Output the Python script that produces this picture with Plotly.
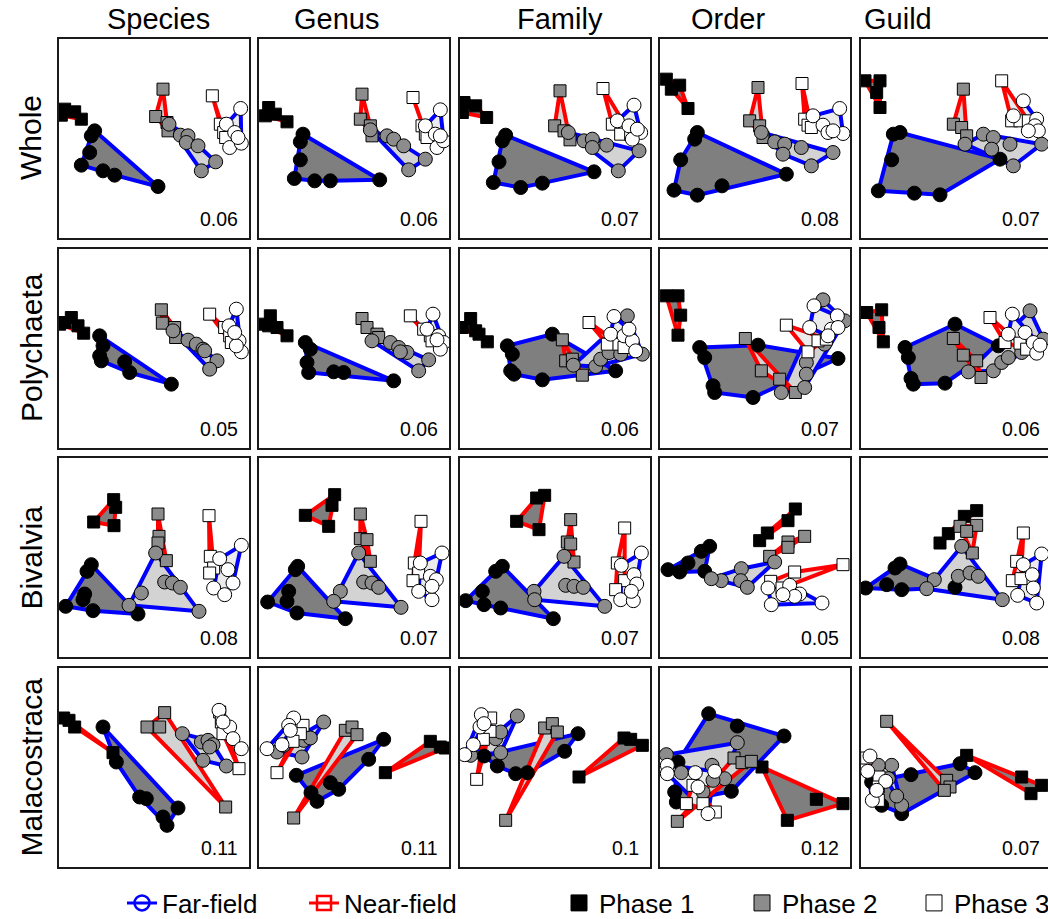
import plotly.graph_objects as go

# ---------------------------------------------------------------
# Ordination scores (panel units, y increases downward) for each
# taxonomic resolution (columns) and assemblage (rows).
# far = far-field stations (circles), near = near-field (squares),
# the digit is the sampling phase.
# ---------------------------------------------------------------
COLUMNS = ["Species", "Genus", "Family", "Order", "Guild"]
ROWS = ["Whole", "Polychaeta", "Bivalvia", "Malacostraca"]

stress_whole = [0.06, 0.06, 0.07, 0.08, 0.07]
stress_polychaeta = [0.05, 0.06, 0.06, 0.07, 0.06]
stress_bivalvia = [0.08, 0.07, 0.07, 0.05, 0.08]
stress_malacostraca = [0.11, 0.11, 0.1, 0.12, 0.07]

# ---- Whole assemblage -------------------------------------------
whole_species = {
    "near1": [(17, 212), (47, 220), (67, 242), (7, 230)],
    "far1": [(107, 277), (97, 292), (92, 342), (67, 380), (132, 397), (167, 410), (297, 444)],
    "near2": [(312, 152), (290, 234), (324, 252), (327, 277)],
    "far2": [(330, 257), (364, 290), (387, 292), (382, 312), (417, 322), (470, 370), (427, 397)],
    "near3": [(460, 172), (484, 257), (494, 282), (500, 297)],
    "far3": [(545, 210), (502, 257), (527, 282), (512, 327), (547, 314), (537, 297)],
}
whole_genus = {
    "near1": [(29, 207), (49, 227), (84, 250), (19, 232)],
    "far1": [(132, 287), (124, 310), (124, 364), (106, 420), (167, 427), (214, 427), (362, 424)],
    "near2": [(309, 167), (304, 242), (334, 262), (339, 292)],
    "far2": [(334, 274), (384, 292), (404, 302), (434, 322), (499, 362), (449, 394)],
    "near3": [(462, 177), (489, 262), (499, 287), (504, 297)],
    "far3": [(544, 214), (499, 262), (529, 287), (534, 327), (554, 307), (544, 292)],
}
whole_family = {
    "near1": [(12, 192), (47, 202), (80, 237), (7, 222)],
    "far1": [(137, 290), (127, 307), (117, 370), (100, 432), (182, 447), (247, 434), (402, 400)],
    "near2": [(300, 157), (284, 262), (312, 277), (330, 304)],
    "far2": [(325, 282), (372, 307), (397, 302), (397, 327), (440, 320), (537, 337), (475, 397)],
    "near3": [(429, 150), (457, 257), (482, 287), (512, 287)],
    "far3": [(522, 200), (472, 247), (507, 262), (542, 282), (517, 302), (532, 272)],
}
whole_order = {
    "near1": [(19, 122), (59, 140), (84, 210), (34, 152)],
    "far1": [(112, 282), (104, 302), (62, 364), (42, 455), (112, 470), (186, 442), (379, 407)],
    "near2": [(294, 147), (269, 247), (299, 262), (309, 297)],
    "far2": [(304, 282), (344, 310), (374, 317), (424, 327), (519, 342), (454, 382), (369, 347)],
    "near3": [(426, 135), (434, 242), (444, 260), (454, 267)],
    "far3": [(539, 210), (459, 232), (489, 260), (504, 282), (549, 285), (519, 277)],
}
whole_guild = {
    "near1": [(12, 127), (57, 127), (47, 162), (57, 207)],
    "far1": [(97, 287), (117, 282), (92, 364), (52, 457), (160, 464), (237, 469), (417, 362)],
    "near2": [(307, 152), (277, 257), (302, 267), (317, 292)],
    "far2": [(312, 317), (367, 287), (397, 297), (392, 332), (447, 317), (542, 317), (457, 382)],
    "near3": [(422, 127), (452, 247), (477, 247), (502, 247)],
    "far3": [(487, 187), (457, 232), (527, 242), (522, 262), (532, 277), (502, 277)],
}

# ---- Polychaeta ---------------------------------------------------
poly_species = {
    "near1": [(17, 222), (37, 207), (57, 232), (74, 254), (2, 227)],
    "far1": [(122, 262), (132, 292), (122, 322), (127, 337), (197, 340), (212, 372), (337, 407)],
    "near2": [(307, 184), (310, 224), (347, 237), (350, 267)],
    "far2": [(342, 247), (387, 275), (412, 287), (432, 302), (474, 337), (452, 362), (437, 307)],
    "near3": [(452, 197), (497, 237), (512, 262), (517, 282)],
    "far3": [(532, 182), (510, 232), (540, 277), (547, 310), (532, 292), (527, 252)],
}
poly_genus = {
    "near1": [(34, 202), (9, 227), (54, 237), (84, 262), (29, 232)],
    "far1": [(139, 282), (154, 302), (144, 342), (149, 372), (224, 370), (254, 372), (404, 397)],
    "near2": [(309, 210), (324, 237), (354, 257), (359, 267)],
    "far2": [(339, 277), (394, 282), (419, 297), (444, 312), (509, 334), (479, 367), (424, 310)],
    "near3": [(454, 202), (494, 242), (514, 262), (519, 277)],
    "far3": [(522, 197), (504, 242), (539, 262), (554, 282), (544, 302), (534, 274)],
}
poly_family = {
    "near1": [(32, 210), (7, 237), (57, 257), (82, 280), (47, 247)],
    "far1": [(142, 292), (157, 317), (152, 367), (162, 377), (247, 394), (277, 257), (467, 367)],
    "near2": [(307, 274), (317, 337), (367, 380), (337, 332)],
    "far2": [(340, 350), (407, 354), (422, 332), (447, 312), (482, 317), (502, 202), (547, 317)],
    "near3": [(387, 222), (442, 287), (477, 287), (492, 297)],
    "far3": [(462, 204), (452, 257), (492, 262), (517, 277), (527, 307), (507, 242)],
}
poly_order = {
    "near1": [(19, 142), (54, 142), (62, 200), (54, 260)],
    "far1": [(119, 297), (134, 327), (159, 412), (164, 432), (279, 447), (294, 290), (534, 330)],
    "near2": [(256, 270), (304, 367), (359, 392), (406, 432)],
    "far2": [(489, 154), (439, 342), (439, 377), (434, 417), (364, 432), (494, 287), (554, 217)],
    "near3": [(379, 230), (444, 310), (474, 277), (499, 272)],
    "far3": [(462, 172), (449, 237), (532, 202), (514, 242), (534, 237), (504, 262)],
}
poly_guild = {
    "near1": [(17, 192), (62, 184), (54, 237), (67, 280)],
    "far1": [(282, 227), (132, 297), (142, 327), (150, 390), (157, 407), (252, 404), (412, 292)],
    "near2": [(277, 270), (307, 320), (347, 337), (360, 387)],
    "far2": [(322, 370), (397, 367), (422, 342), (442, 327), (507, 187), (547, 272), (482, 312)],
    "near3": [(387, 207), (432, 282), (477, 284), (497, 302)],
    "far3": [(454, 197), (442, 257), (492, 252), (517, 282), (527, 314), (537, 290)],
}

# ---- Bivalvia -----------------------------------------------------
biv_species = {
    "near1": [(164, 125), (170, 148), (104, 192), (165, 203)],
    "far1": [(97, 320), (84, 340), (77, 408), (72, 425), (102, 458), (20, 445), (237, 468)],
    "near2": [(297, 168), (300, 235), (297, 255), (322, 308)],
    "far2": [(290, 285), (247, 405), (210, 442), (317, 372), (340, 375), (364, 388), (420, 460)],
    "near3": [(450, 173), (454, 295), (464, 330), (452, 345)],
    "far3": [(547, 262), (482, 302), (507, 335), (522, 375), (464, 390), (497, 410)],
}
biv_genus = {
    "near1": [(227, 110), (219, 142), (139, 172), (209, 205)],
    "far1": [(116, 325), (109, 335), (89, 400), (84, 430), (114, 465), (26, 432), (259, 482)],
    "near2": [(304, 168), (304, 242), (324, 245), (334, 310)],
    "far2": [(299, 285), (244, 400), (224, 430), (314, 372), (339, 375), (359, 388), (426, 448)],
    "near3": [(486, 190), (466, 315), (479, 345), (462, 368)],
    "far3": [(549, 285), (484, 315), (514, 355), (532, 365), (479, 400), (519, 425), (519, 385)],
}
biv_family = {
    "near1": [(254, 112), (230, 120), (170, 190), (237, 215)],
    "far1": [(127, 325), (107, 340), (67, 400), (72, 440), (122, 450), (17, 428), (280, 482)],
    "near2": [(332, 185), (322, 252), (332, 258), (342, 312)],
    "far2": [(312, 295), (222, 400), (224, 425), (317, 382), (342, 385), (370, 388), (434, 445)],
    "near3": [(494, 210), (472, 315), (494, 368), (467, 395)],
    "far3": [(544, 285), (484, 322), (522, 350), (530, 378), (482, 425), (520, 428), (514, 400)],
}
biv_order = {
    "near1": [(406, 153), (384, 188), (322, 225), (299, 248)],
    "far1": [(149, 265), (124, 280), (84, 315), (24, 335), (59, 342), (134, 340)],
    "near2": [(434, 235), (384, 252), (384, 268), (329, 295)],
    "far2": [(244, 332), (184, 368), (154, 362), (242, 368), (262, 388), (344, 312)],
    "near3": [(549, 320), (404, 342), (332, 370), (366, 390)],
    "far3": [(486, 435), (389, 382), (419, 408), (404, 415), (334, 440), (369, 410), (324, 390)],
}
biv_guild = {
    "near1": [(347, 158), (310, 175), (262, 227), (237, 255)],
    "far1": [(117, 318), (102, 330), (77, 380), (122, 395), (14, 390), (282, 388)],
    "near2": [(347, 202), (297, 205), (317, 220), (334, 285)],
    "far2": [(302, 265), (220, 365), (197, 392), (292, 355), (327, 345), (352, 355), (424, 425)],
    "near3": [(487, 225), (467, 310), (454, 368), (480, 362)],
    "far3": [(542, 288), (487, 320), (514, 350), (517, 390), (470, 412), (527, 435)],
}

# ---- Malacostraca -------------------------------------------------
mal_species = {
    "near1": [(14, 150), (30, 157), (47, 177), (162, 254)],
    "far1": [(132, 177), (172, 282), (242, 387), (262, 392), (357, 420), (312, 447), (324, 472)],
    "near2": [(317, 134), (264, 177), (302, 177), (500, 417)],
    "far2": [(370, 197), (427, 222), (447, 217), (462, 230), (432, 277), (502, 294), (452, 237)],
    "near3": [(482, 132), (487, 162), (492, 197), (540, 302)],
    "far3": [(480, 127), (512, 177), (522, 212), (547, 242), (492, 162)],
}
mal_genus = {
    "near1": [(514, 220), (544, 237), (559, 240), (379, 314)],
    "far1": [(374, 214), (329, 274), (112, 322), (156, 374), (174, 400), (214, 344), (239, 364)],
    "near2": [(259, 187), (279, 177), (294, 200), (104, 450)],
    "far2": [(194, 162), (129, 267), (54, 252), (74, 232), (134, 217), (154, 210)],
    "near3": [(132, 172), (124, 197), (102, 220), (54, 314)],
    "far3": [(104, 150), (89, 172), (24, 242), (69, 230), (94, 187)],
}
mal_family = {
    "near1": [(492, 210), (512, 214), (547, 232), (357, 327)],
    "far1": [(354, 197), (314, 250), (72, 264), (112, 294), (167, 317), (202, 314)],
    "near2": [(254, 180), (277, 167), (292, 192), (137, 457)],
    "far2": [(172, 144), (122, 254), (107, 212), (122, 192), (32, 262)],
    "near3": [(92, 150), (90, 190), (70, 214), (50, 334)],
    "far3": [(64, 140), (60, 177), (40, 230), (14, 260), (72, 167)],
}
mal_order = {
    "near1": [(306, 297), (469, 394), (549, 407), (382, 457)],
    "far1": [(146, 137), (232, 174), (372, 204), (214, 370), (44, 372), (49, 402), (54, 282)],
    "near2": [(222, 270), (246, 284), (274, 280), (52, 460)],
    "far2": [(232, 224), (19, 260), (64, 314), (156, 292), (194, 332), (159, 337), (129, 372)],
    "near3": [(99, 352), (79, 407), (129, 407), (166, 432)],
    "far3": [(22, 292), (22, 317), (106, 314), (164, 310), (144, 437), (114, 357)],
}
mal_guild = {
    "near1": [(317, 262), (482, 327), (542, 352), (510, 377)],
    "far1": [(297, 287), (342, 314), (150, 320), (122, 437), (62, 412), (32, 342)],
    "near2": [(77, 160), (257, 337), (267, 357), (250, 367)],
    "far2": [(92, 292), (122, 412), (107, 384), (52, 292), (82, 332)],
    "near3": [(17, 270), (54, 327), (52, 357), (52, 397)],
    "far3": [(27, 264), (20, 310), (74, 340), (34, 397), (47, 367)],
}

PANELS = [
    [whole_species, whole_genus, whole_family, whole_order, whole_guild],
    [poly_species, poly_genus, poly_family, poly_order, poly_guild],
    [biv_species, biv_genus, biv_family, biv_order, biv_guild],
    [mal_species, mal_genus, mal_family, mal_order, mal_guild],
]
STRESS = [stress_whole, stress_polychaeta, stress_bivalvia, stress_malacostraca]

# ---------------------------------------------------------------
# Styling
# ---------------------------------------------------------------
FONT = "Liberation Sans, Arial, sans-serif"
W, H = 1048, 919
FIELD_LINE = {"far": "#0000ff", "near": "#ff0000"}
FIELD_SYMBOL = {"far": "circle", "near": "square"}
PHASE_FILL = {1: "#000000", 2: "#8c8c8c", 3: "#ffffff"}
HULL_FILL = {1: "#7f7f7f", 2: "#d3d3d3", 3: "#ebebeb"}
MARKER_SIZE = {"far": 14, "near": 12}

COL_X0 = [59, 259, 460, 660, 861]
ROW_Y0 = [38.5, 248.5, 458, 668]
PANEL_W, PANEL_H = 190, 199
UNITS_PER_PX = 3
TITLE_X = [158, 336, 560, 728, 898]


def convex_hull(points):
    pts = sorted(set(points))
    if len(pts) <= 2:
        return pts

    def cross(o, a, b):
        return (a[0] - o[0]) * (b[1] - o[1]) - (a[1] - o[1]) * (b[0] - o[0])

    lower, upper = [], []
    for p in pts:
        while len(lower) >= 2 and cross(lower[-2], lower[-1], p) <= 0:
            lower.pop()
        lower.append(p)
    for p in reversed(pts):
        while len(upper) >= 2 and cross(upper[-2], upper[-1], p) <= 0:
            upper.pop()
        upper.append(p)
    return lower[:-1] + upper[:-1]


fig = go.Figure()
layout_axes = {}
annotations = []

for r, row in enumerate(PANELS):
    for c, panel in enumerate(row):
        k = r * 5 + c + 1
        xa = "x" if k == 1 else f"x{k}"
        ya = "y" if k == 1 else f"y{k}"
        x0 = COL_X0[c]
        x1 = min(x0 + PANEL_W, W)
        y0 = ROW_Y0[r]
        y1 = y0 + PANEL_H
        last_col = c == len(row) - 1

        layout_axes["xaxis" if k == 1 else f"xaxis{k}"] = dict(
            domain=[x0 / W, x1 / W], anchor=ya,
            range=[0, (x1 - x0) * UNITS_PER_PX],
            showline=True, mirror=True, linecolor="#1a1a1a", linewidth=1.5,
            showgrid=False, zeroline=False, showticklabels=False, ticks="",
            fixedrange=True,
        )
        layout_axes["yaxis" if k == 1 else f"yaxis{k}"] = dict(
            domain=[1 - y1 / H, 1 - y0 / H], anchor=xa,
            range=[PANEL_H * UNITS_PER_PX, 0],
            showline=True, mirror=not last_col, linecolor="#1a1a1a", linewidth=1.5,
            showgrid=False, zeroline=False, showticklabels=False, ticks="",
            fixedrange=True,
        )

        # convex hulls: far-field first, then near-field
        for field in ("far", "near"):
            for phase in (1, 2, 3):
                pts = convex_hull(panel[f"{field}{phase}"])
                if len(pts) > 2:
                    pts = pts + [pts[0]]
                fig.add_trace(go.Scatter(
                    x=[p[0] for p in pts], y=[p[1] for p in pts],
                    mode="lines", fill="toself" if len(pts) > 3 else None,
                    fillcolor=HULL_FILL[phase],
                    line=dict(color=FIELD_LINE[field], width=4),
                    hoverinfo="skip", showlegend=False, xaxis=xa, yaxis=ya,
                ))

        # station points
        for phase in (1, 2, 3):
            for field in ("near", "far"):
                pts = panel[f"{field}{phase}"]
                fig.add_trace(go.Scatter(
                    x=[p[0] for p in pts], y=[p[1] for p in pts],
                    mode="markers",
                    marker=dict(symbol=FIELD_SYMBOL[field], size=MARKER_SIZE[field],
                                color=PHASE_FILL[phase],
                                line=dict(color="#000000", width=1)),
                    showlegend=False, xaxis=xa, yaxis=ya,
                ))

        annotations.append(dict(
            x=544, y=540, xref=xa, yref=ya, text=f"{STRESS[r][c]:g}",
            showarrow=False, xanchor="right", yanchor="middle",
            font=dict(family=FONT, size=19.5, color="#000000"),
        ))

# column and row headings
for c, name in enumerate(COLUMNS):
    annotations.append(dict(
        x=TITLE_X[c] / W, y=1 - 19 / H, xref="paper", yref="paper", text=name,
        showarrow=False, xanchor="center", yanchor="middle",
        font=dict(family=FONT, size=29, color="#000000"),
    ))
for r, name in enumerate(ROWS):
    annotations.append(dict(
        x=31 / W, y=1 - (ROW_Y0[r] + PANEL_H / 2) / H, xref="paper", yref="paper",
        text=name, textangle=-90, showarrow=False,
        xanchor="center", yanchor="middle",
        font=dict(family=FONT, size=30, color="#000000"),
    ))

# legend entries
fig.add_trace(go.Scatter(
    x=[None], y=[None], mode="lines+markers", name="Far-field",
    line=dict(color="#0000ff", width=3),
    marker=dict(symbol="circle-open", size=15, color="#0000ff", line=dict(width=2.5)),
    legend="legend",
))
fig.add_trace(go.Scatter(
    x=[None], y=[None], mode="lines+markers", name="Near-field",
    line=dict(color="#ff0000", width=3),
    marker=dict(symbol="square-open", size=14, color="#ff0000", line=dict(width=2.5)),
    legend="legend2",
))
for phase, lg in zip((1, 2, 3), ("legend3", "legend4", "legend5")):
    fig.add_trace(go.Scatter(
        x=[None], y=[None], mode="markers", name=f"Phase {phase}",
        marker=dict(symbol="square", size=16, color=PHASE_FILL[phase],
                    line=dict(color="#000000", width=1)),
        legend=lg,
    ))

LEGEND_SYMBOL_X = [144, 326, 581, 764, 936]
legends = {}
for i, sx in enumerate(LEGEND_SYMBOL_X):
    key = "legend" if i == 0 else f"legend{i + 1}"
    legends[key] = dict(
        x=(sx - 22) / W, y=1 - 903 / H, xanchor="left", yanchor="middle",
        bgcolor="rgba(0,0,0,0)", borderwidth=0, itemsizing="trace",
        font=dict(family=FONT, size=26, color="#000000"),
    )

fig.update_layout(
    width=W, height=H,
    margin=dict(l=0, r=0, t=0, b=0, autoexpand=False),
    paper_bgcolor="#ffffff", plot_bgcolor="#ffffff",
    annotations=annotations, showlegend=True,
    **layout_axes, **legends,
)

fig.write_html("out.html")
